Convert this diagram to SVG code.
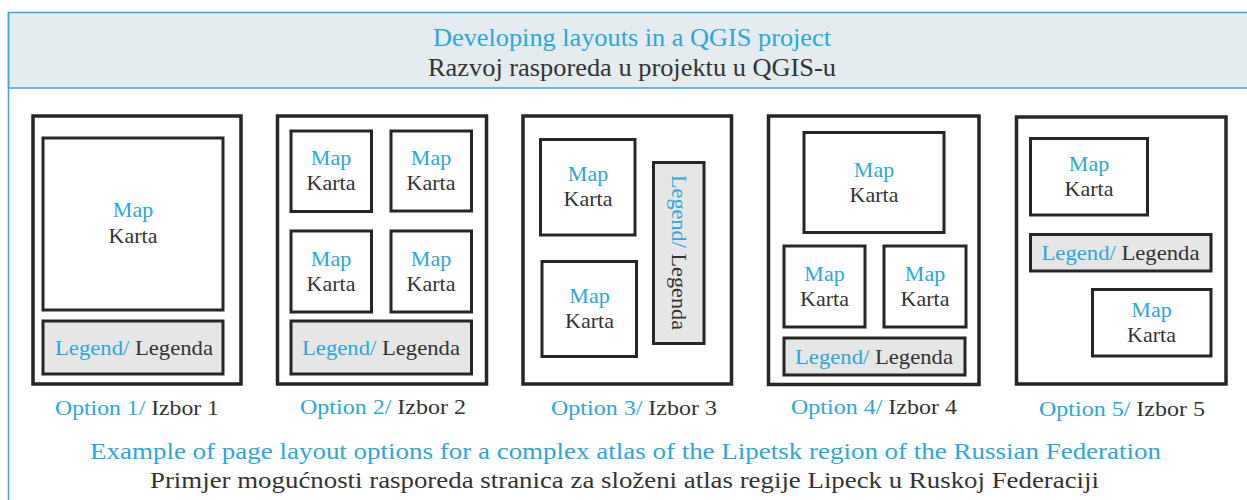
<svg xmlns="http://www.w3.org/2000/svg" width="1247" height="500" viewBox="0 0 1247 500">
<style>
text{font-family:"Liberation Serif","Times New Roman",serif;}
.b{fill:#2aa7dd;}
.d{fill:#333333;}
.page{fill:#ffffff;stroke:#262626;stroke-width:3.5;}
.map{fill:#ffffff;stroke:#262626;stroke-width:3;}
.leg{fill:#e6e6e6;stroke:#262626;stroke-width:3;}
.mt{font-size:22px;text-anchor:middle;}
.lt{font-size:22px;text-anchor:middle;}
.ot{font-size:21px;text-anchor:middle;}
.hd{font-size:25px;text-anchor:middle;}
.ft{font-size:24px;text-anchor:middle;}
</style>
<rect x="0" y="0" width="1247" height="500" fill="#ffffff"/>
<g id="header">
<rect x="8.5" y="12.5" width="1260" height="75.5" fill="#e4ecf0" stroke="#3aa9d9" stroke-width="1.5"/>
<line x1="8.5" y1="12" x2="8.5" y2="500" stroke="#3aa9d9" stroke-width="1.5"/>
<text class="hd b" x="632" y="46" textLength="398" lengthAdjust="spacingAndGlyphs">Developing layouts in a QGIS project</text>
<text class="hd d" x="632" y="76" textLength="408" lengthAdjust="spacingAndGlyphs">Razvoj rasporeda u projektu u QGIS-u</text>
</g>
<g id="option1">
<rect class="page" x="33" y="116" width="208" height="268"/>
<rect class="map" x="43" y="138" width="180" height="172"/>
<text class="mt b" x="133" y="217">Map</text>
<text class="mt d" x="133" y="243">Karta</text>
<rect class="leg" x="43" y="321" width="180" height="53"/>
<text class="lt" x="134" y="354.5" textLength="158" lengthAdjust="spacingAndGlyphs"><tspan class="b">Legend/</tspan><tspan class="d"> Legenda</tspan></text>
<text class="ot" x="137" y="415" textLength="164" lengthAdjust="spacingAndGlyphs"><tspan class="b">Option 1/</tspan><tspan class="d"> Izbor 1</tspan></text>
</g>
<g id="option2">
<rect class="page" x="277.5" y="116" width="209" height="268"/>
<rect class="map" x="291" y="131" width="80.5" height="80.5"/>
<text class="mt b" x="331" y="165">Map</text>
<text class="mt d" x="331" y="190">Karta</text>
<rect class="map" x="391" y="131" width="80.5" height="80"/>
<text class="mt b" x="431" y="165">Map</text>
<text class="mt d" x="431" y="190">Karta</text>
<rect class="map" x="291" y="231" width="80.5" height="81"/>
<text class="mt b" x="331" y="265.5">Map</text>
<text class="mt d" x="331" y="290.5">Karta</text>
<rect class="map" x="391" y="231" width="80.5" height="81"/>
<text class="mt b" x="431" y="265.5">Map</text>
<text class="mt d" x="431" y="290.5">Karta</text>
<rect class="leg" x="291" y="321" width="180.5" height="53"/>
<text class="lt" x="381" y="354.5" textLength="158" lengthAdjust="spacingAndGlyphs"><tspan class="b">Legend/</tspan><tspan class="d"> Legenda</tspan></text>
<text class="ot" x="383" y="414" textLength="166" lengthAdjust="spacingAndGlyphs"><tspan class="b">Option 2/</tspan><tspan class="d"> Izbor 2</tspan></text>
</g>
<g id="option3">
<rect class="page" x="523" y="116" width="208.5" height="268"/>
<rect class="map" x="540.5" y="139.5" width="94.5" height="95.5"/>
<text class="mt b" x="588" y="181">Map</text>
<text class="mt d" x="588" y="206">Karta</text>
<rect class="map" x="542" y="261.5" width="94.5" height="95"/>
<text class="mt b" x="589.5" y="303">Map</text>
<text class="mt d" x="589.5" y="328">Karta</text>
<rect class="leg" x="653.5" y="162.5" width="50.5" height="181"/>
<text class="lt" transform="translate(671.5,252.5) rotate(90)" x="0" y="0" textLength="155" lengthAdjust="spacingAndGlyphs"><tspan class="b">Legend/</tspan><tspan class="d"> Legenda</tspan></text>
<text class="ot" x="634" y="415" textLength="166" lengthAdjust="spacingAndGlyphs"><tspan class="b">Option 3/</tspan><tspan class="d"> Izbor 3</tspan></text>
</g>
<g id="option4">
<rect class="page" x="768.5" y="116" width="210.5" height="268.5"/>
<rect class="map" x="804" y="132.5" width="140" height="100"/>
<text class="mt b" x="874" y="176.5">Map</text>
<text class="mt d" x="874" y="201.5">Karta</text>
<rect class="map" x="784" y="246" width="81" height="81"/>
<text class="mt b" x="824.5" y="280.5">Map</text>
<text class="mt d" x="824.5" y="305.5">Karta</text>
<rect class="map" x="884" y="246" width="82" height="81"/>
<text class="mt b" x="925" y="280.5">Map</text>
<text class="mt d" x="925" y="305.5">Karta</text>
<rect class="leg" x="784" y="338" width="181" height="37"/>
<text class="lt" x="874" y="363.5" textLength="158" lengthAdjust="spacingAndGlyphs"><tspan class="b">Legend/</tspan><tspan class="d"> Legenda</tspan></text>
<text class="ot" x="874" y="414" textLength="166" lengthAdjust="spacingAndGlyphs"><tspan class="b">Option 4/</tspan><tspan class="d"> Izbor 4</tspan></text>
</g>
<g id="option5">
<rect class="page" x="1016.5" y="117" width="209.5" height="267"/>
<rect class="map" x="1030.5" y="138.5" width="117" height="76.5"/>
<text class="mt b" x="1089" y="170.5">Map</text>
<text class="mt d" x="1089" y="195.5">Karta</text>
<rect class="leg" x="1030.5" y="234.5" width="180.5" height="36.5"/>
<text class="lt" x="1120.5" y="260" textLength="158" lengthAdjust="spacingAndGlyphs"><tspan class="b">Legend/</tspan><tspan class="d"> Legenda</tspan></text>
<rect class="map" x="1092.5" y="289.5" width="118.5" height="66.5"/>
<text class="mt b" x="1151.5" y="316.5">Map</text>
<text class="mt d" x="1151.5" y="341.5">Karta</text>
<text class="ot" x="1122" y="416" textLength="166" lengthAdjust="spacingAndGlyphs"><tspan class="b">Option 5/</tspan><tspan class="d"> Izbor 5</tspan></text>
</g>
<g id="connectors"></g>
<g id="caption">
<text class="ft b" x="625.5" y="459" textLength="1071" lengthAdjust="spacingAndGlyphs">Example of page layout options for a complex atlas of the Lipetsk region of the Russian Federation</text>
<text class="ft d" x="624.5" y="488" textLength="949" lengthAdjust="spacingAndGlyphs">Primjer mogućnosti rasporeda stranica za složeni atlas regije Lipeck u Ruskoj Federaciji</text>
</g>
</svg>
